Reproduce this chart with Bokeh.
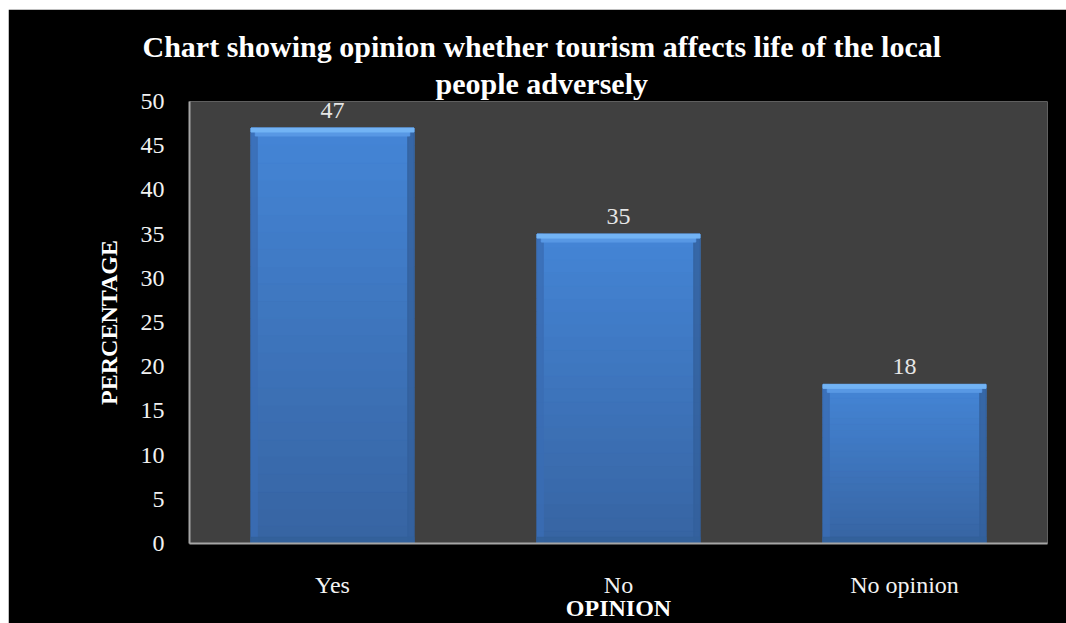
import numpy as np
from bokeh.plotting import figure
from bokeh.models import ColumnDataSource, FactorRange, Range1d, FixedTicker, LabelSet, Title
from bokeh.transform import dodge
from bokeh.embed import file_html
from bokeh.resources import INLINE
from bokeh.core.properties import value

# ---- data ----
categories = ["Yes", "No", "No opinion"]
percentages = [47, 35, 18]
y_ticks = [0, 5, 10, 15, 20, 25, 30, 35, 40, 45, 50]
title_line1 = "Chart showing opinion whether tourism affects life of the local"
title_line2 = "people adversely"
x_title = "OPINION"
y_title = "PERCENTAGE"

FONT = "Liberation Serif"

p = figure(
    x_range=FactorRange(*categories), y_range=Range1d(0, 50),
    width=1058, height=614, margin=(9, 0, 0, 8), title=None,
    output_backend="svg", toolbar_location=None,
    min_border_left=181, min_border_right=19, min_border_top=92, min_border_bottom=80,
    border_fill_color="black", background_fill_color="#404040",
    outline_line_color=None,
)
p.xgrid.visible = False
p.ygrid.visible = False

BW = 0.57

# gradient body (bands computed from each bar's own value)
N = 24
top_c = np.array([0x44, 0x85, 0xd6])
bot_c = np.array([0x37, 0x64, 0xa2])
bx, bb, bt, bc = [], [], [], []
for cat, v in zip(categories, percentages):
    for k in range(N):
        f = (k + 0.5) / N
        c = bot_c + (top_c - bot_c) * f
        bx.append(cat)
        bb.append(v * k / N)
        bt.append(v * (k + 1) / N)
        bc.append("#%02x%02x%02x" % tuple(int(round(t)) for t in c))
p.vbar(x="x", bottom="b", top="t", width=BW, color="c",
       source=ColumnDataSource(dict(x=bx, b=bb, t=bt, c=bc)))

src = ColumnDataSource(dict(cat=categories, val=percentages,
                            lab=[str(v) for v in percentages]))

# bevel: side shading, bottom shading, top highlight
p.vbar(x=dodge("cat", -BW / 2 + 0.011, range=p.x_range), bottom=0, top="val",
       width=0.022, color="#3a6db4", alpha=0.8, source=src)
p.vbar(x=dodge("cat", BW / 2 - 0.011, range=p.x_range), bottom=0, top="val",
       width=0.022, color="#33609c", alpha=0.8, source=src)
p.vbar(x="cat", bottom=0, top=0.7, width=BW, color="#33609a", alpha=0.85, source=src)
src_top = ColumnDataSource(dict(cat=categories,
                                t=[v for v in percentages],
                                m=[v - 0.45 for v in percentages],
                                b=[v - 0.9 for v in percentages]))
p.vbar(x="cat", bottom="b", top="m", width=BW - 0.03, color="#5898e4", source=src_top)
p.vbar(x="cat", bottom="m", top="t", width=BW, color="#72b3f4", source=src_top)

# data labels
p.add_layout(LabelSet(x="cat", y="val", text="lab", source=src, y_offset=10,
                      text_align="center", text_baseline="bottom",
                      text_font=value(FONT), text_font_size=value("24px"),
                      text_color=value("#e6e6e6")))

# axes
for ax in (p.xaxis[0], p.yaxis[0]):
    ax.axis_line_color = "#a6a6a6"
    ax.axis_line_width = 2
    ax.major_tick_line_color = None
    ax.minor_tick_line_color = None
    ax.major_label_text_font = FONT
    ax.major_label_text_font_size = "24px"
    ax.major_label_text_color = "#f2f2f2"
    ax.axis_label_text_font = FONT
    ax.axis_label_text_font_size = "24px"
    ax.axis_label_text_font_style = "bold"
    ax.axis_label_text_color = "white"

p.yaxis.ticker = FixedTicker(ticks=y_ticks)
p.yaxis.major_label_standoff = 19
p.yaxis.axis_label = y_title
p.yaxis.axis_label_standoff = 16

p.xaxis.major_label_standoff = 22
p.xaxis.axis_label = x_title
p.xaxis.axis_label_standoff = -6

# two-line title, centred on the whole chart (first added sits nearest the frame)
p.add_layout(Title(text=title_line2, align="left", offset=246, standoff=4,
                   text_font=FONT, text_font_size="30px", text_font_style="bold",
                   text_color="white"), "above")
p.add_layout(Title(text=title_line1, align="left", offset=-47, standoff=0,
                   text_font=FONT, text_font_size="30px", text_font_style="bold",
                   text_color="white"), "above")

open("out.html", "w").write(file_html(p, INLINE))
